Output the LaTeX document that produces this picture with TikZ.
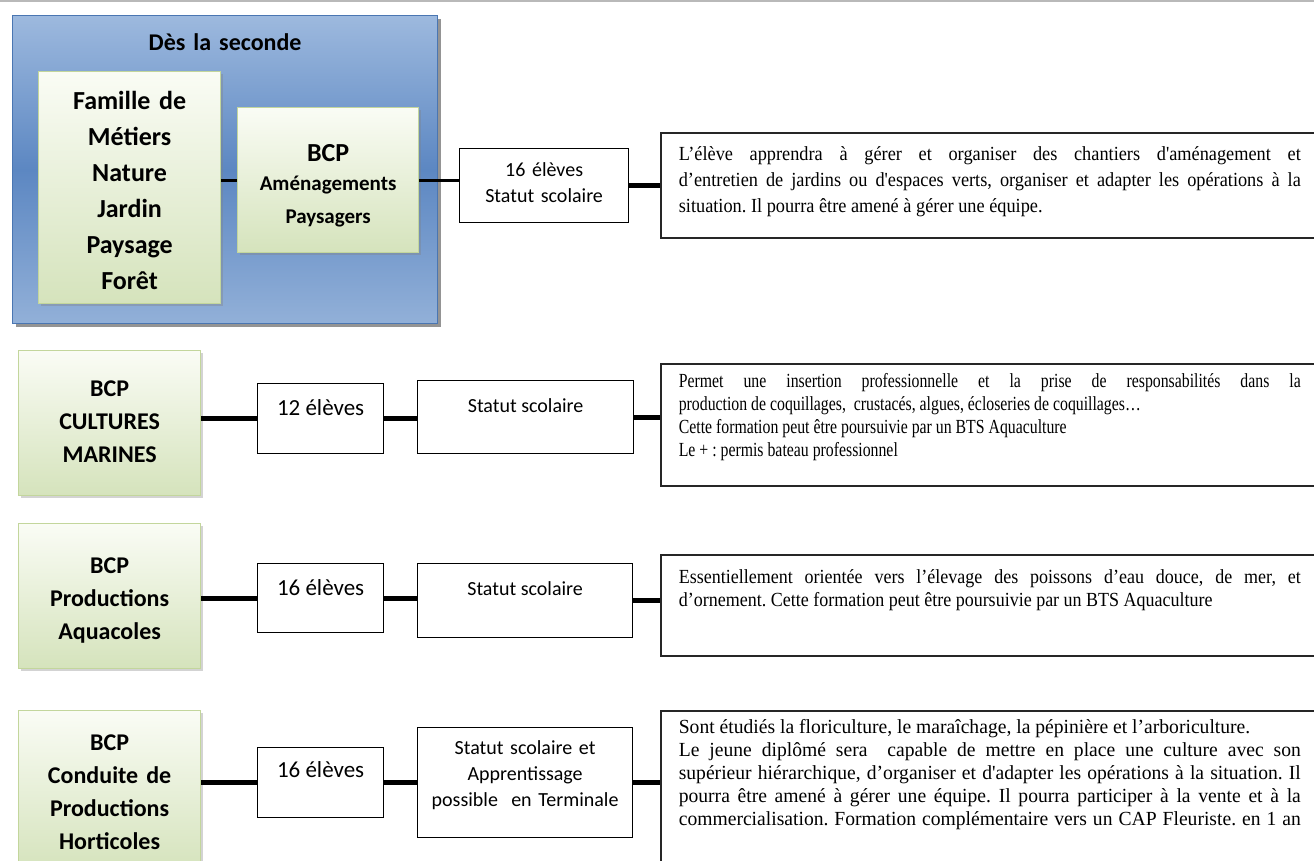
\documentclass[tikz,border=0pt]{standalone}
\usepackage{fontspec}
\setmainfont{Carlito}
\newfontfamily\descA[FakeStretch=0.915]{Liberation Serif}
\newfontfamily\descB[FakeStretch=0.79]{Liberation Serif}
\newfontfamily\descC[FakeStretch=0.9]{Liberation Serif}
\newfontfamily\descD[FakeStretch=0.98]{Liberation Serif}
\usetikzlibrary{shadows}
\frenchspacing
\definecolor{bluetop}{HTML}{9DB9DE}
\definecolor{bluemid}{HTML}{5C87C2}
\definecolor{bluebot}{HTML}{92B0D8}
\definecolor{blueline}{HTML}{4A76B2}
\definecolor{greentop}{HTML}{FAFCF5}
\definecolor{greenbot}{HTML}{D5E3BC}
\definecolor{greenline}{HTML}{C3D69C}

\begin{document}
\begin{tikzpicture}[x=1pt,y=-1pt,
  every node/.style={inner sep=0pt,anchor=north west},
  blueframe/.style={draw=blueline,line width=1.2pt,top color=bluetop,bottom color=bluebot,middle color=bluemid,
    drop shadow={shadow xshift=3pt,shadow yshift=-3pt,fill=black!70,opacity=.6},
    text width=425pt,align=center,font=\bfseries\fontsize{24}{28}\selectfont},
  greenbox/.style={draw=greenline,line width=1.2pt,top color=greentop,bottom color=greenbot,
    drop shadow={shadow xshift=2.5pt,shadow yshift=-2.5pt,fill=black!50,opacity=.35},
    align=center,font=\bfseries\fontsize{24}{33}\selectfont},
  textbox/.style={draw,line width=1.2pt,fill=white,align=center,font=\fontsize{20}{26}\selectfont},
  descbox/.style={draw=black!85,line width=1.6pt,fill=white,align=justify,text width=622pt,inner xsep=18pt},
  link/.style={line width=5pt},
  thinlink/.style={line width=3pt}]
\useasboundingbox (0,0) rectangle (1314,861);
\clip (0,0) rectangle (1314,861);
\draw [gray!55,line width=3pt] (0,1) -- (1314,1);

\node [blueframe,text height=35pt,text depth=273pt] (seconde) at (12,15) {Dès la seconde};
\node [greenbox,text width=182pt,text height=38pt,text depth=194pt,font=\bfseries\fontsize{26}{36}\selectfont] (famille) at (38,71) {Famille de\\Métiers\\Nature\\Jardin\\Paysage\\Forêt};
\node [greenbox,text width=181pt,text height=54pt,text depth=91pt] (amenag) at (237,107) {\fontsize{26}{30}\selectfont BCP\\\fontsize{21}{29}\selectfont Aménagements\\Paysagers};
\node [textbox,text width=169pt,text height=28pt,text depth=46pt] (stat1) at (459,148) {16 élèves\\Statut scolaire};
\node [descbox,font=\descA\fontsize{20}{26}\selectfont,text height=28pt,text depth=77pt] (desc1) at (660,132) {L’élève apprendra à gérer et organiser des chantiers d'aménagement et\linebreak d’entretien de jardins ou d'espaces verts, organiser et adapter les opérations à la\linebreak situation. Il pourra être amené à gérer une équipe.};
\draw [thinlink] (amenag.west -| famille.east) -- (amenag.west);
\draw [thinlink] (amenag.east) -- (amenag.east -| stat1.west);
\draw [link] (stat1.east) -- (stat1.east -| desc1.west);

\node [greenbox,text width=182pt,text height=46pt,text depth=99pt] (marines) at (18,350) {BCP\\CULTURES\\MARINES};
\node [textbox,minimum width=126pt,font=\fontsize{23}{28}\selectfont,text height=32pt,text depth=38pt] (eleves2) at (257,383) {12 élèves};
\node [textbox,minimum width=216pt,text height=32pt,text depth=41pt] (statut2) at (417,380) {Statut scolaire};
\node [descbox,font=\descB\fontsize{20}{23}\selectfont,text height=24pt,text depth=98pt] (desc2) at (660,363) {Permet une insertion professionnelle et la prise de responsabilités dans la\linebreak production de coquillages,\ \ crustacés, algues, écloseries de coquillages…\\Cette formation peut être poursuivie par un BTS Aquaculture\\Le + : permis bateau professionnel};
\draw [link] (eleves2.west -| marines.east) -- (eleves2.west);
\draw [link] (eleves2.east) -- (eleves2.east -| statut2.west);
\draw [link] (statut2.east) -- (statut2.east -| desc2.west);

\node [greenbox,text width=182pt,text height=50pt,text depth=95pt] (aquacoles) at (18,523) {BCP\\Productions\\Aquacoles};
\node [textbox,minimum width=126pt,font=\fontsize{23}{28}\selectfont,text height=32pt,text depth=37pt] (eleves3) at (257,563) {16 élèves};
\node [textbox,minimum width=215pt,text height=32pt,text depth=42pt] (statut3) at (417,563) {Statut scolaire};
\node [descbox,font=\descC\fontsize{20}{23}\selectfont,text height=29pt,text depth=72pt] (desc3) at (660,554) {Essentiellement orientée vers l’élevage des poissons d’eau douce, de mer, et\linebreak d’ornement. Cette formation peut être poursuivie par un BTS Aquaculture};
\draw [link] (eleves3.west -| aquacoles.east) -- (eleves3.west);
\draw [link] (eleves3.east) -- (eleves3.east -| statut3.west);
\draw [link] (statut3.east) -- (statut3.east -| desc3.west);

\node [greenbox,text width=182pt,text height=40pt,text depth=120pt] (horticoles) at (18,710) {BCP\\Conduite de\\Productions\\Horticoles};
\node [textbox,minimum width=126pt,font=\fontsize{23}{28}\selectfont,text height=30pt,text depth=40pt] (eleves4) at (257,747) {16 élèves};
\node [textbox,text width=215pt,text height=27pt,text depth=83pt] (statut4) at (417,727) {Statut scolaire et\\Apprentissage\\possible\ \ en Terminale};
\node [descbox,font=\descD\fontsize{20}{23}\selectfont,text height=23pt,text depth=160pt] (desc4) at (660,710) {Sont étudiés la floriculture, le maraîchage, la pépinière et l’arboriculture.\\Le jeune diplômé sera\ \ capable de mettre en place une culture avec son\linebreak supérieur hiérarchique, d’organiser et d'adapter les opérations à la situation. Il\linebreak pourra être amené à gérer une équipe. Il pourra participer à la vente et à la\linebreak commercialisation. Formation complémentaire vers un CAP Fleuriste. en 1 an\hskip 0pt plus -1fil\null};
\draw [link] (eleves4.west -| horticoles.east) -- (eleves4.west);
\draw [link] (eleves4.east) -- (eleves4.east -| statut4.west);
\draw [link] (statut4.east) -- (statut4.east -| desc4.west);
\end{tikzpicture}
\end{document}
